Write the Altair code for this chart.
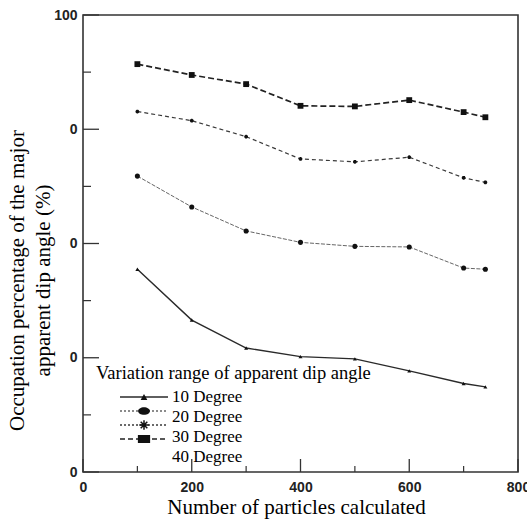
import altair as alt
import pandas as pd

# Number of particles used in the calculation
particles = [100, 200, 300, 400, 500, 600, 700, 740]

# Occupation percentage (%) for each variation range of apparent dip angle
deg10 = [55.5, 46.6, 41.7, 40.2, 39.8, 37.7, 35.5, 34.9]
deg20 = [71.8, 66.4, 62.2, 60.2, 59.5, 59.4, 55.7, 55.5]
deg30 = [83.1, 81.5, 78.7, 74.8, 74.3, 75.1, 71.5, 70.7]
deg40 = [91.4, 89.5, 87.9, 84.1, 84.0, 85.1, 83.0, 82.1]
series_names = ["10 Degree", "20 Degree", "30 Degree", "40 Degree"]
series_values = [deg10, deg20, deg30, deg40]

legend_title = "Variation range of apparent dip angle"

# Axis tick positions
x_major = [0, 200, 400, 600, 800]
x_minor = [100, 300, 500, 700]
y_major = [20, 40, 60, 80, 100]
y_minor = [30, 50, 70, 90]

W, H = 435, 457
SERIF = "Times New Roman, Liberation Serif, DejaVu Serif, serif"
SANS = "Arial, Liberation Sans, sans-serif"

ASTERISK = "M-1,0L1,0M0,-1L0,1M-0.7,-0.7L0.7,0.7M-0.7,0.7L0.7,-0.7"
RECT = "M-1,-0.65L1,-0.65L1,0.65L-1,0.65Z"
ELLIPSE = "M-1,0A1,0.65,0,1,1,1,0A1,0.65,0,1,1,-1,0Z"

styles = {
    "10 Degree": dict(color="#2a2a2a", width=1.4, dash=None, shape="triangle-up",
                      size=16, filled=True, lshape="triangle-up", lsize=45, ldash=None),
    "20 Degree": dict(color="#666666", width=1.0, dash=[4, 1.5], shape="circle",
                      size=26, filled=True, lshape=ELLIPSE, lsize=140, ldash=[2, 2]),
    "30 Degree": dict(color="#3a3a3a", width=1.2, dash=[4, 3], shape=ASTERISK,
                      size=14, filled=False, lshape=ASTERISK, lsize=90, ldash=[2, 2]),
    "40 Degree": dict(color="#222222", width=1.7, dash=[6, 3], shape="square",
                      size=34, filled=True, lshape=RECT, lsize=150, ldash=[5, 3]),
}

xs = alt.Scale(domain=[0, 800], nice=False, zero=False)
ys = alt.Scale(domain=[20, 100], nice=False, zero=False)

x_axis = alt.Axis(
    values=x_major, ticks=False, domain=False, grid=False, labelFlush=False,
    labelFont=SANS, labelFontWeight="bold", labelFontSize=14,
    labelColor="#222222", labelPadding=8,
    titleFont=SERIF, titleFontSize=21, titleFontWeight="normal",
    titleColor="#000000", titleX=213, titleY=41, titleAlign="center",
    titleBaseline="alphabetic",
)
y_axis = alt.Axis(
    values=y_major, ticks=False, domain=False, grid=False, labelFlush=False,
    labelExpr="datum.value == 100 ? '100' : '0'",
    labelFont=SANS, labelFontWeight="bold", labelFontSize=14,
    labelColor="#222222", labelPadding=6,
    titleFont=SERIF, titleFontSize=21, titleFontWeight="normal",
    titleColor="#000000", titleAngle=270, titleX=-66, titleY=265,
    titleAlign="center", titleBaseline="middle", titleLineHeight=26,
)

X = alt.X("x:Q", scale=xs, axis=x_axis, title="Number of particles calculated")
Y = alt.Y("y:Q", scale=ys, axis=y_axis,
          title=["Occupation percentage of the major", "apparent dip angle (%)"])

layers = []

# Data series: line plus markers
for name, vals in zip(series_names, series_values):
    st = styles[name]
    df = pd.DataFrame({"x": particles, "y": vals, "series": name})
    line_kw = dict(color=st["color"], strokeWidth=st["width"])
    if st["dash"]:
        line_kw["strokeDash"] = st["dash"]
    layers.append(alt.Chart(df).mark_line(**line_kw).encode(x=X, y=Y))
    layers.append(
        alt.Chart(df).mark_point(
            shape=st["shape"], size=st["size"], filled=st["filled"],
            color="#111111", opacity=1, strokeWidth=1.3,
        ).encode(x=X, y=Y)
    )

# Inward tick marks
tick_color = "#333333"
layers.append(alt.Chart(pd.DataFrame({"x": x_major})).mark_rule(color=tick_color, strokeWidth=1.3)
              .encode(x=X, y=alt.value(H), y2=alt.value(H - 13)))
layers.append(alt.Chart(pd.DataFrame({"x": x_minor})).mark_rule(color=tick_color, strokeWidth=1.2)
              .encode(x=X, y=alt.value(H), y2=alt.value(H - 6)))
layers.append(alt.Chart(pd.DataFrame({"y": y_major})).mark_rule(color=tick_color, strokeWidth=1.3)
              .encode(y=Y, x=alt.value(0), x2=alt.value(16)))
layers.append(alt.Chart(pd.DataFrame({"y": y_minor})).mark_rule(color=tick_color, strokeWidth=1.2)
              .encode(y=Y, x=alt.value(0), x2=alt.value(8)))

# Legend drawn inside the plot area
layers.append(
    alt.Chart(pd.DataFrame({"t": [legend_title]})).mark_text(
        font=SERIF, fontSize=18.5, align="left", baseline="alphabetic",
        color="#000000",
    ).encode(x=alt.value(13), y=alt.value(364), text="t:N")
)
symbol_rows = [382, 396, 410, 424]
label_rows = [387, 407, 427, 447]
for i, name in enumerate(series_names):
    st = styles[name]
    one = pd.DataFrame({"t": [name]})
    rule_kw = dict(color=st["color"], strokeWidth=1.3)
    if st["ldash"]:
        rule_kw["strokeDash"] = st["ldash"]
    layers.append(alt.Chart(one).mark_rule(**rule_kw).encode(
        x=alt.value(37), x2=alt.value(85), y=alt.value(symbol_rows[i])))
    layers.append(alt.Chart(one).mark_point(
        shape=st["lshape"], size=st["lsize"], filled=st["filled"],
        color="#111111", opacity=1, strokeWidth=1.5,
    ).encode(x=alt.value(61), y=alt.value(symbol_rows[i])))
    layers.append(alt.Chart(one).mark_text(
        font=SERIF, fontSize=17, align="left", baseline="alphabetic",
        color="#000000",
    ).encode(x=alt.value(89), y=alt.value(label_rows[i]), text="t:N"))

chart = (
    alt.layer(*layers)
    .properties(
        width=W, height=H,
        autosize=alt.AutoSizeParams(type="none"),
        padding={"left": 83, "top": 15, "right": 9, "bottom": 51},
        background="white",
    )
    .configure_view(stroke="#333333", strokeWidth=1.6)
)

chart.save("out.html", embed_options={"renderer": "svg", "actions": False})
